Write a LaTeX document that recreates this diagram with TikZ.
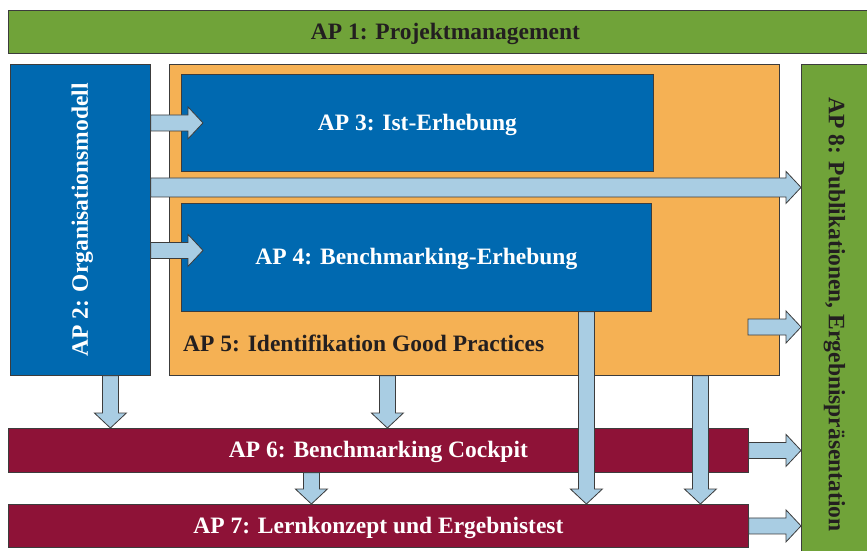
\documentclass[tikz,border=0pt]{standalone}
\usepackage{fontspec}
\setmainfont{Liberation Serif}
\usetikzlibrary{calc}
\definecolor{apgreen}{RGB}{112,163,57}
\definecolor{apblue}{RGB}{0,105,176}
\definecolor{aporange}{RGB}{245,177,84}
\definecolor{apred}{RGB}{142,18,55}
\definecolor{apflow}{RGB}{169,205,227}
\definecolor{apline}{RGB}{60,60,60}
\definecolor{aptext}{RGB}{35,31,32}
% fat outlined arrow: [shaft half width]{from}{to}
\newcommand\fatarrow[3][8pt]{%
  \coordinate (fa-h) at ($(#3)!15pt!(#2)$);
  \filldraw[flow] ($(#2)!#1!90:(#3)$) -- ($(fa-h)!#1!90:(#3)$) -- ($(fa-h)!16pt!90:(#3)$) -- (#3)
    -- ($(fa-h)!16pt!-90:(#3)$) -- ($(fa-h)!#1!-90:(#3)$) -- ($(#2)!#1!-90:(#3)$) -- cycle;}
\begin{document}
\begin{tikzpicture}[x=1pt,y=-1pt,line join=miter]
	\tikzset{box/.style={draw=apline,line width=0.8pt,inner sep=0pt,anchor=north west},
		aplabel/.style={font=\fontsize{23.5}{26}\selectfont\bfseries,inner sep=0pt,text height=15pt,text depth=0pt},
		flow/.style={draw=apline,fill=apflow,line width=0.8pt}}
	\useasboundingbox (0,0) rectangle (867,550);
	\clip (0,0) rectangle (867,550);
	\node[box,fill=apgreen,minimum width=874pt,minimum height=43pt,aplabel,text=aptext] (ap1) at (8,10) {AP 1: Projektmanagement};
	\node[box,fill=apblue,minimum width=140pt,minimum height=311pt,
		label={[aplabel,text=white,rotate=90]center:AP 2: Organisationsmodell}] (ap2) at (10,64) {};
	\node[box,fill=aporange,minimum width=610pt,minimum height=311pt] (ap5) at (169,64) {};
	\node[aplabel,text=aptext,anchor=west] (ap5-text) at ($(ap5.south west)+(14,-32)$) {AP 5: Identifikation Good Practices};
	\node[box,fill=apblue,minimum width=472pt,minimum height=97pt,aplabel,text=white] (ap3) at (181,74) {AP 3: Ist-Erhebung};
	\node[box,fill=apblue,minimum width=470pt,minimum height=108pt,aplabel,text=white] (ap4) at (181,203) {AP 4: Benchmarking-Erhebung};
	\node[box,fill=apgreen,minimum width=70pt,minimum height=500pt,
		label={[aplabel,text=aptext,rotate=-90]center:AP 8: Publikationen, Ergebnispräsentation}] (ap8) at (801,64) {};
	\node[box,fill=apred,minimum width=740pt,minimum height=44pt,aplabel,text=white] (ap6) at (8,428) {AP 6: Benchmarking Cockpit};
	\node[box,fill=apred,minimum width=740pt,minimum height=43pt,aplabel,text=white] (ap7) at (8,504) {AP 7: Lernkonzept und Ergebnistest};
	\coordinate (mid) at ($(ap3.south)!.5!(ap4.north)$);
	\coordinate (in3) at ($(ap3.west)+(22,0)$);
	\coordinate (in4) at ($(ap4.west)+(22,-7)$);
	\coordinate (out5) at (748,327);
	\coordinate (d2) at ($(ap2.south)+(30,0)$);
	\coordinate (d5) at ($(ap5.south)+(-87,0)$);
	\coordinate (d6) at ($(ap6.south)+(-67,0)$);
	\coordinate (d4) at ($(ap4.south)+(170,0)$);
	\coordinate (d5b) at ($(ap5.south)+(226,0)$);
	\fatarrow{ap2.east |- in3}{in3}
	\fatarrow[9.5pt]{ap2.east |- mid}{ap8.west |- mid}
	\fatarrow{ap2.east |- in4}{in4}
	\fatarrow{out5}{ap8.west |- out5}
	\fatarrow{ap6.east}{ap8.west |- ap6.east}
	\fatarrow{ap7.east}{ap8.west |- ap7.east}
	\fatarrow{d2}{ap6.north -| d2}
	\fatarrow{d5}{ap6.north -| d5}
	\fatarrow{d6}{ap7.north -| d6}
	\fatarrow{d4}{ap7.north -| d4}
	\fatarrow{d5b}{ap7.north -| d5b}
\end{tikzpicture}
\end{document}
